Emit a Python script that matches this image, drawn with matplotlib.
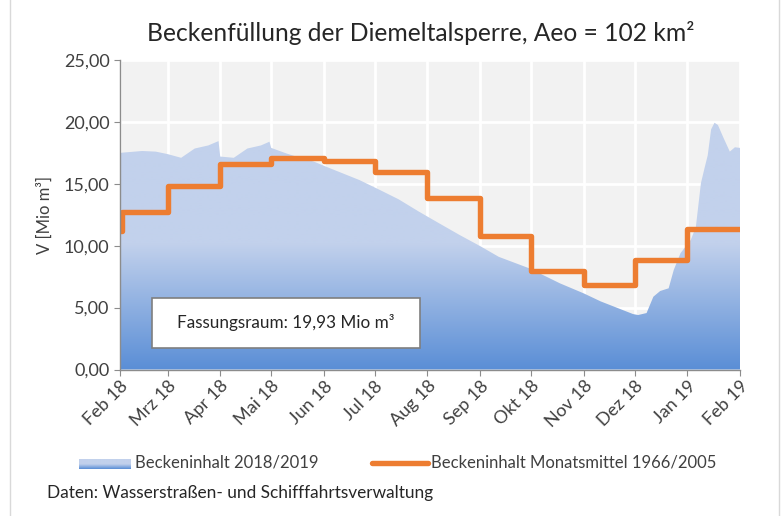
import numpy as np
import matplotlib.pyplot as plt
import matplotlib.dates as mdates
from matplotlib.patches import Rectangle
from matplotlib.lines import Line2D
from matplotlib.colors import to_rgb
from datetime import datetime

plt.rcParams['font.family'] = ['Lato', 'DejaVu Sans']

# Beckeninhalt 2018/2019 (Mio m³)
inhalt_dates = ['2018-02-01', '2018-02-14', '2018-02-22', '2018-03-01', '2018-03-09',
                '2018-03-17', '2018-03-25', '2018-03-31', '2018-04-01', '2018-04-09',
                '2018-04-17', '2018-04-25', '2018-04-30', '2018-05-01', '2018-05-10',
                '2018-05-18', '2018-05-26', '2018-06-02', '2018-06-12', '2018-06-22',
                '2018-07-04', '2018-07-15', '2018-07-27', '2018-08-08', '2018-08-20',
                '2018-09-01', '2018-09-12', '2018-09-30', '2018-10-18', '2018-11-01',
                '2018-11-11', '2018-11-30', '2018-12-03', '2018-12-08', '2018-12-12',
                '2018-12-16', '2018-12-21', '2018-12-24', '2018-12-28', '2019-01-03',
                '2019-01-06', '2019-01-09', '2019-01-11', '2019-01-13', '2019-01-15',
                '2019-01-17', '2019-01-19', '2019-01-22', '2019-01-26', '2019-01-29',
                '2019-02-01']
inhalt = [17.5, 17.65, 17.6, 17.4, 17.1,
          17.85, 18.1, 18.45, 17.2, 17.1,
          17.85, 18.1, 18.4, 17.9, 17.45,
          17.1, 16.8, 16.4, 15.85, 15.3,
          14.5, 13.75, 12.75, 11.8, 10.86,
          9.97, 9.1, 8.17, 6.96, 6.15,
          5.5, 4.48, 4.4, 4.56, 5.88,
          6.34, 6.56, 8.04, 9.4, 10.46,
          11.5, 15.05, 16.2, 17.3, 19.4,
          19.93, 19.75, 18.8, 17.6, 17.95,
          17.9]

# Beckeninhalt Monatsmittel 1966/2005
mittel_dates = ['2018-02-01', '2018-02-02', '2018-03-01', '2018-04-01', '2018-05-01',
                '2018-06-01', '2018-07-01', '2018-08-01', '2018-09-01', '2018-10-01',
                '2018-11-01', '2018-12-01', '2019-01-01', '2019-02-01']
mittel = [11.2, 12.75, 14.82, 16.6, 17.1,
          16.84, 15.98, 13.83, 10.81, 7.98,
          6.83, 8.85, 11.32, 11.32]

month_ticks = ['2018-02-01', '2018-03-01', '2018-04-01', '2018-05-01', '2018-06-01',
               '2018-07-01', '2018-08-01', '2018-09-01', '2018-10-01', '2018-11-01',
               '2018-12-01', '2019-01-01', '2019-02-01']
month_labels = ['Feb 18', 'Mrz 18', 'Apr 18', 'Mai 18', 'Jun 18', 'Jul 18', 'Aug 18',
                'Sep 18', 'Okt 18', 'Nov 18', 'Dez 18', 'Jan 19', 'Feb 19']

to_dt = lambda s: datetime.strptime(s, '%Y-%m-%d')
x_inh = mdates.date2num([to_dt(d) for d in inhalt_dates])
x_mit = mdates.date2num([to_dt(d) for d in mittel_dates])
x_tk = mdates.date2num([to_dt(d) for d in month_ticks])

W, H = 783, 516
fig = plt.figure(figsize=(W / 100, H / 100), dpi=100)
ax = fig.add_axes([120 / W, 1 - 369.5 / H, 620 / W, 309.5 / H])
ax.set_facecolor('#F2F2F2')

light = np.array(to_rgb('#C2D1EC'))
dark = np.array(to_rgb('#5A8ED6'))

def gradient(n, v_top, v_knee):
    # rows from top (v_top) to bottom (0)
    v = np.linspace(v_top, 0, n)
    t = np.clip(v / v_knee, 0, 1)[:, None]
    return (dark * (1 - t) + light * t)[:, None, :]

# gradient area
poly = ax.fill_between(x_inh, 0, inhalt, facecolor='none', edgecolor='none', zorder=2)
img = ax.imshow(gradient(300, 25, 10.2), extent=[x_tk[0], x_tk[-1], 0, 25],
                aspect='auto', interpolation='bilinear', zorder=2)
img.set_clip_path(poly.get_paths()[0], transform=ax.transData)

ax.plot(x_mit, mittel, drawstyle='steps-post', color='#ED7D31', lw=3.9,
        solid_joinstyle='round', zorder=4)

ax.set_xlim(x_tk[0], x_tk[-1])
ax.set_ylim(0, 25)
ax.set_yticks(np.arange(0, 26, 5))
ax.set_yticklabels(['%d,00' % v for v in range(0, 26, 5)])
ax.set_xticks(x_tk)
ax.set_xticklabels(month_labels, rotation=45, ha='right', va='top', rotation_mode='anchor')
ax.grid(True, color='white', lw=2, zorder=1)
ax.set_axisbelow(True)
for s in ['top', 'right']:
    ax.spines[s].set_visible(False)
for s in ['left', 'bottom']:
    ax.spines[s].set_color('#8C8C8C')
    ax.spines[s].set_linewidth(1)
    ax.spines[s].set_zorder(5)
ax.tick_params(direction='out', length=4, color='#8C8C8C', labelcolor='#404040',
               labelsize=13)
ax.tick_params(axis='x', pad=2)

# Fassungsraum box
ax.add_patch(Rectangle((0.0516, 0.0695), 0.432, 0.1615, transform=ax.transAxes,
                       facecolor='white', edgecolor='#7F7F7F', lw=1.2, zorder=6))
ax.text(0.268, 0.153, 'Fassungsraum: 19,93 Mio m³', transform=ax.transAxes,
        ha='center', va='center', fontsize=12.3, color='#262626', zorder=7)

# title and axis label
fig.text(421 / W, 1 - 33 / H, 'Beckenfüllung der Diemeltalsperre, Aeo = 102 km²',
         ha='center', va='center', fontsize=17.7, color='#262626')
fig.text(45 / W, 1 - 215 / H, 'V [Mio m³]', rotation=90, ha='center', va='center',
         fontsize=12, color='#404040')

# legend
sw = fig.add_axes([79 / W, 1 - 469 / H, 52 / W, 10 / H])
sw.imshow(gradient(50, 10, 5), aspect='auto', extent=[0, 1, 0, 1])
sw.axis('off')
fig.text(135 / W, 1 - 463 / H, 'Beckeninhalt 2018/2019', ha='left', va='center',
         fontsize=12, color='#404040')
fig.add_artist(Line2D([372 / W, 428 / W], [1 - 463 / H, 1 - 463 / H],
                      color='#ED7D31', lw=3.9, solid_capstyle='round'))
fig.text(431 / W, 1 - 463 / H, 'Beckeninhalt Monatsmittel 1966/2005', ha='left',
         va='center', fontsize=12, color='#404040')
fig.text(47 / W, 1 - 493 / H, 'Daten: Wasserstraßen- und Schifffahrtsverwaltung',
         ha='left', va='center', fontsize=12.4, color='#262626')

# chart frame
fig.add_artist(Rectangle((10 / W, -0.02), 769 / W, 1.04, transform=fig.transFigure,
                         facecolor='none', edgecolor='#D9D9D9', lw=1))

fig.savefig('out.png', dpi=100)
